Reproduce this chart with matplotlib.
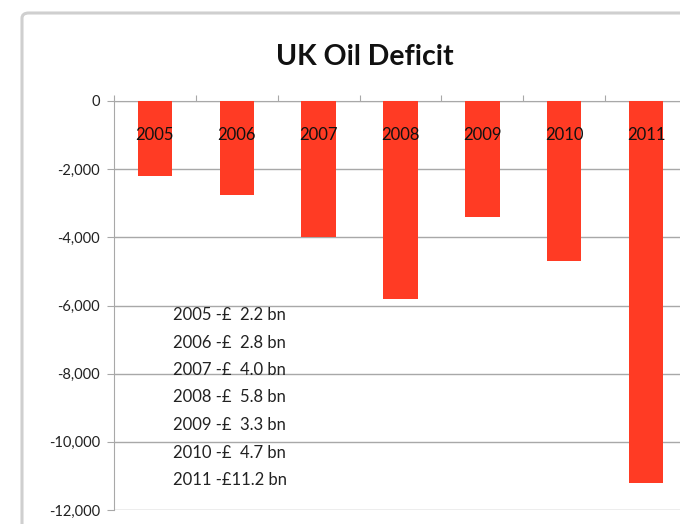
import matplotlib
matplotlib.use("Agg")
import matplotlib.pyplot as plt
from matplotlib.patches import FancyBboxPatch
from matplotlib.ticker import FuncFormatter, MultipleLocator

years = ["2005", "2006", "2007", "2008", "2009", "2010", "2011"]
deficit = [-2200, -2750, -4000, -5800, -3400, -4700, -11200]
notes = ["2005 -£  2.2 bn", "2006 -£  2.8 bn", "2007 -£  4.0 bn", "2008 -£  5.8 bn",
         "2009 -£  3.3 bn", "2010 -£  4.7 bn", "2011 -£11.2 bn"]
title = "UK Oil Deficit"

W, H = 680, 524
fig = plt.figure(figsize=(W / 100, H / 100), dpi=100)
fig.patch.set_facecolor("white")

font = ["Lato", "DejaVu Sans"]
narrow = ["Liberation Sans Narrow", "Lato", "DejaVu Sans"]

# outer chart frame (cropped on right and bottom)
frame = FancyBboxPatch((22 / W, -0.2), 1.2, 1 - 13 / H + 0.2,
                       boxstyle="round,pad=0,rounding_size=0.01",
                       transform=fig.transFigure, facecolor="none",
                       edgecolor="#cfcfcf", linewidth=2.2, zorder=0)
fig.patches.append(frame)

ax = fig.add_axes([114 / W, 1 - 510 / H, (687 - 114) / W, (510 - 101) / H])
x = list(range(len(years)))
ax.bar(x, deficit, width=0.42, color="#FF3B24", zorder=3)
ax.set_xlim(-0.5, len(years) - 0.5)
ax.set_ylim(-12000, 0)

ax.yaxis.set_major_locator(MultipleLocator(2000))
ax.yaxis.set_major_formatter(FuncFormatter(lambda v, p: f"{int(v):,}"))
ax.grid(axis="y", color="#a8a8a8", linewidth=1.0, zorder=1)
for s in ["right", "bottom"]:
    ax.spines[s].set_visible(False)
ax.spines["left"].set_color("#a8a8a8")
ax.spines["top"].set_color("#a8a8a8")
ax.xaxis.tick_top()
ax.set_xticks([i - 0.5 for i in range(len(years) + 1)])
ax.set_xticklabels([])
ax.tick_params(axis="x", which="both", length=4, color="#a8a8a8", direction="out")
ax.tick_params(axis="y", length=5, color="#a8a8a8", labelsize=10.5, pad=5)
for lab in ax.get_yticklabels():
    lab.set_family(font)
    lab.set_color("#222222")

for xi, yr in zip(x, years):
    ax.text(xi, -1000, yr, ha="center", va="center", fontsize=12,
            family=narrow, color="#111111", zorder=4)

fig.text(365 / W, 1 - 57 / H, title, ha="center", va="center",
         fontsize=20.5, fontweight="bold", family=font, color="#111111")

for i, n in enumerate(notes):
    fig.text(173 / W, 1 - (315 + i * 27.5) / H, n, ha="left", va="center",
             fontsize=12, family=font, color="#222222")

fig.savefig("out.png", dpi=100)
